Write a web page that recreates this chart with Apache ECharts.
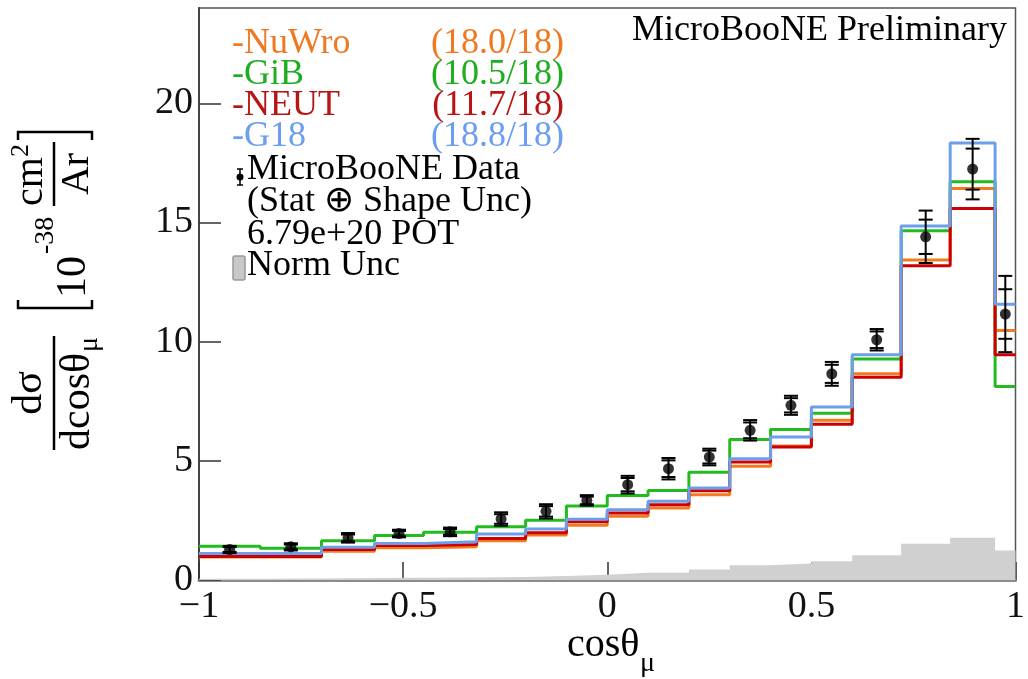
<!DOCTYPE html>
<html><head><meta charset="utf-8">
<script src="https://cdn.jsdelivr.net/npm/echarts@6/dist/echarts.min.js"></script>
<style>html,body{margin:0;padding:0;background:#fff}#c{width:1028px;height:679px}</style>
</head><body><div id="c"></div>
<script>
// ---- data ----
const binEdges = [-1, -0.85, -0.7, -0.57, -0.45, -0.32, -0.2, -0.1, 0, 0.1, 0.2, 0.3, 0.4, 0.5, 0.6, 0.72, 0.84, 0.95, 1];
const nuwro = [0.97, 0.97, 1.21, 1.35, 1.40, 1.65, 1.89, 2.30, 2.67, 3.02, 3.58, 4.77, 5.62, 6.70, 8.65, 13.43, 16.43, 10.47];
const gib   = [1.42, 1.33, 1.65, 1.87, 2.00, 2.23, 2.51, 3.10, 3.55, 3.76, 4.52, 5.89, 6.31, 7.00, 9.27, 14.65, 16.71, 8.12];
const neut  = [0.99, 0.99, 1.28, 1.45, 1.49, 1.74, 1.98, 2.44, 2.81, 3.16, 3.75, 4.95, 5.58, 6.54, 8.51, 13.19, 15.59, 9.45];
const g18   = [1.11, 1.11, 1.37, 1.53, 1.60, 1.93, 2.14, 2.55, 2.95, 3.30, 3.86, 5.09, 6.00, 7.26, 9.45, 14.85, 18.34, 11.57];
const dataVals = [1.28, 1.39, 1.77, 1.95, 2.02, 2.56, 2.88, 3.34, 4.00, 4.67, 5.16, 6.28, 7.33, 8.65, 10.08, 14.40, 17.24, 11.16];
const totErr   = [0.15, 0.15, 0.20, 0.16, 0.18, 0.28, 0.30, 0.22, 0.37, 0.45, 0.35, 0.43, 0.40, 0.50, 0.45, 1.10, 1.27, 1.60];
const statErr  = [0.10, 0.10, 0.14, 0.11, 0.12, 0.20, 0.22, 0.16, 0.28, 0.35, 0.27, 0.33, 0.30, 0.38, 0.35, 0.72, 0.86, 1.04];
const normUnc  = [0.05, 0.06, 0.08, 0.09, 0.10, 0.13, 0.17, 0.22, 0.30, 0.30, 0.44, 0.62, 0.69, 0.79, 1.04, 1.52, 1.77, 1.24];
const xTicks = [-1, -0.5, 0, 0.5, 1];
const yTicks = [0, 5, 10, 15, 20];
const modelNames = ['-NuWro', '-GiB', '-NEUT', '-G18'];
const chi2Labels = ['(18.0/18)', '(10.5/18)', '(11.7/18)', '(18.8/18)'];
const lineColors = ['#f47a20', '#22bb22', '#cc0000', '#6d9eea'];
const textColors = ['#f07820', '#1fae1f', '#b81414', '#6b9df0'];
const infoLines = ['MicroBooNE Data', '(Stat \u2295 Shape Unc)', '6.79e+20 POT', 'Norm Unc'];

const FF = '"Liberation Serif", "Times New Roman", serif';

function stepData(vals) {
  const d = vals.map((v, i) => [binEdges[i], v]);
  d.push([binEdges[binEdges.length - 1], vals[vals.length - 1]]);
  return d;
}
const points = dataVals.map((v, i) => [(binEdges[i] + binEdges[i + 1]) / 2, v, totErr[i], statErr[i]]);

const modelSeries = [nuwro, gib, neut, g18].map((vals, k) => ({
  type: 'line', step: 'end', data: stepData(vals), symbol: 'none',
  lineStyle: { color: lineColors[k], width: 3 }, z: 3 + k, silent: true
}));

function fmt(v) { return String(v).replace('-', '\u2212'); }

// legend graphics
const legendEls = [];
const rowY = [44, 75, 106, 137];
modelNames.forEach((n, k) => {
  legendEls.push({ type: 'text', x: 232, y: rowY[k], style: { text: n, fill: textColors[k], fontSize: 36, fontFamily: FF, align: 'left', verticalAlign: 'middle' } });
  legendEls.push({ type: 'text', x: 564, y: rowY[k], style: { text: chi2Labels[k], fill: textColors[k], fontSize: 36, fontFamily: FF, align: 'right', verticalAlign: 'middle' } });
});
const infoY = [170, 202, 235, 266];
infoLines.forEach((t, k) => {
  legendEls.push({ type: 'text', x: 247, y: infoY[k], style: { text: t, fill: '#000', fontSize: 36, fontFamily: FF, align: 'left', verticalAlign: 'middle' } });
});
// data marker icon
legendEls.push({ type: 'line', shape: { x1: 240, y1: 169, x2: 240, y2: 185 }, style: { stroke: '#000', lineWidth: 1.5 } });
legendEls.push({ type: 'line', shape: { x1: 237, y1: 169, x2: 243, y2: 169 }, style: { stroke: '#000', lineWidth: 1.5 } });
legendEls.push({ type: 'line', shape: { x1: 237, y1: 185, x2: 243, y2: 185 }, style: { stroke: '#000', lineWidth: 1.5 } });
legendEls.push({ type: 'circle', shape: { cx: 240, cy: 177, r: 3.5 }, style: { fill: '#000' } });
legendEls.push({ type: 'rect', shape: { x: 233, y: 256, width: 12, height: 24, r: 2 }, style: { fill: '#c8c8c8', stroke: '#999', lineWidth: 1.5 } });

// y-axis title (rotated group)
const yTitle = {
  type: 'group', x: 54, y: 450, rotation: Math.PI / 2,
  children: [
    { type: 'line', shape: { x1: 0, y1: 0, x2: 114, y2: 0 }, style: { stroke: '#000', lineWidth: 2.5 } },
    { type: 'text', x: 57, y: -3, style: { text: 'd\u03c3', fontSize: 42, fontFamily: FF, fill: '#000', align: 'center', verticalAlign: 'bottom' } },
    { type: 'text', x: 0, y: 3, style: { text: 'dcos\u03b8', fontSize: 42, fontFamily: FF, fill: '#000', align: 'left', verticalAlign: 'top' } },
    { type: 'text', x: 98, y: 22, style: { text: '\u03bc', fontSize: 28, fontFamily: FF, fill: '#000', align: 'left', verticalAlign: 'top' } },
    { type: 'polyline', shape: { points: [[150, -36], [142, -36], [142, 38], [150, 38]] }, style: { stroke: '#000', lineWidth: 2.5, fill: null } },
    { type: 'text', x: 152, y: 20, style: { text: '10', fontSize: 42, fontFamily: FF, fill: '#000', align: 'left', verticalAlign: 'middle' } },
    { type: 'text', x: 196, y: -8, style: { text: '-38', fontSize: 28, fontFamily: FF, fill: '#000', align: 'left', verticalAlign: 'middle' } },
    { type: 'line', shape: { x1: 244, y1: 0, x2: 308, y2: 0 }, style: { stroke: '#000', lineWidth: 2.5 } },
    { type: 'text', x: 244, y: -3, style: { text: 'cm', fontSize: 40, fontFamily: FF, fill: '#000', align: 'left', verticalAlign: 'bottom' } },
    { type: 'text', x: 293, y: -20, style: { text: '2', fontSize: 26, fontFamily: FF, fill: '#000', align: 'left', verticalAlign: 'bottom' } },
    { type: 'text', x: 276, y: 3, style: { text: 'Ar', fontSize: 40, fontFamily: FF, fill: '#000', align: 'center', verticalAlign: 'top' } },
    { type: 'polyline', shape: { points: [[310, -36], [318, -36], [318, 38], [310, 38]] }, style: { stroke: '#000', lineWidth: 2.5, fill: null } }
  ]
};

const chart = echarts.init(document.getElementById('c'), null, { renderer: 'canvas' });
chart.setOption({
  backgroundColor: '#fff',
  animation: false,
  grid: { left: 199, right: 5, top: 8, bottom: 99, show: true, borderColor: '#555', borderWidth: 1.5 },
  xAxis: {
    type: 'value', min: -1, max: 1, interval: 0.5,
    axisLine: { show: true, onZero: false, lineStyle: { color: '#8c8c8c', width: 3 } },
    axisTick: { show: true, inside: true, length: 18, customValues: xTicks, lineStyle: { color: '#333', width: 1.5 } },
    axisLabel: { customValues: xTicks, fontSize: 38, fontFamily: FF, color: '#111', margin: 8, formatter: fmt },
    splitLine: { show: false }
  },
  yAxis: {
    type: 'value', min: 0, max: 24, interval: 5,
    axisLine: { show: true, onZero: false, lineStyle: { color: '#444', width: 2 } },
    axisTick: { show: true, inside: true, length: 22, customValues: yTicks, lineStyle: { color: '#333', width: 1.5 } },
    axisLabel: { customValues: yTicks, fontSize: 38, fontFamily: FF, color: '#111', margin: 6 },
    splitLine: { show: false }
  },
  series: [
    { type: 'line', step: 'end', data: stepData(normUnc), symbol: 'none', lineStyle: { width: 0 },
      areaStyle: { color: '#d0d0d0', opacity: 1 }, z: 1, silent: true },
    ...modelSeries,
    { type: 'custom', data: points, z: 10, silent: true,
      renderItem: function (params, api) {
        const x = api.value(0), y = api.value(1), te = api.value(2), se = api.value(3);
        const a = api.coord([x, y + te]), b = api.coord([x, y - te]);
        const c = api.coord([x, y + se]), d = api.coord([x, y - se]);
        const st = { stroke: '#000', lineWidth: 2 };
        const hw = 7;
        const cap = (p) => ({ type: 'line', shape: { x1: p[0] - hw, y1: p[1], x2: p[0] + hw, y2: p[1] }, style: st });
        return { type: 'group', children: [
          { type: 'line', shape: { x1: a[0], y1: a[1], x2: b[0], y2: b[1] }, style: st },
          cap(a), cap(b), cap(c), cap(d)
        ] };
      }
    },
    { type: 'scatter', data: points.map(p => [p[0], p[1]]), symbol: 'circle', symbolSize: 11,
      itemStyle: { color: '#000' }, z: 11, silent: true }
  ],
  graphic: [
    { type: 'text', x: 1007, y: 31, style: { text: 'MicroBooNE Preliminary', fontSize: 36, fontFamily: FF, fill: '#000', align: 'right', verticalAlign: 'middle' } },
    ...legendEls,
    yTitle,
    { type: 'text', x: 567, y: 645, style: { text: 'cos\u03b8', fontSize: 40, fontFamily: FF, fill: '#000', align: 'left', verticalAlign: 'middle' } },
    { type: 'text', x: 640, y: 664, style: { text: '\u03bc', fontSize: 28, fontFamily: FF, fill: '#000', align: 'left', verticalAlign: 'middle' } }
  ]
});
</script></body></html>
